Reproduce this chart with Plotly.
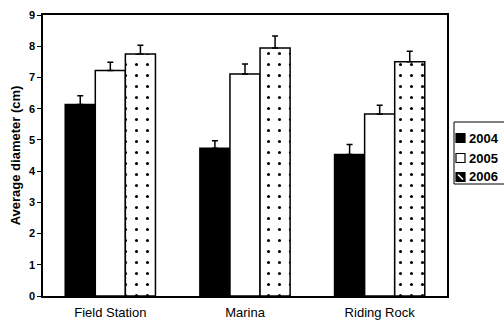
import plotly.graph_objects as go

sites = ["Field Station", "Marina", "Riding Rock"]
years = ["2004", "2005", "2006"]
means_2004 = [6.13, 4.73, 4.53]
means_2005 = [7.22, 7.11, 5.83]
means_2006 = [7.75, 7.94, 7.50]
err_2004 = [0.28, 0.24, 0.32]
err_2005 = [0.27, 0.32, 0.28]
err_2006 = [0.28, 0.39, 0.34]
y_ticks = [0, 1, 2, 3, 4, 5, 6, 7, 8, 9]

W, H = 504, 324
L, R, T, B = 43, 57, 15, 28
PW, PH = W - L - R, H - T - B


def px_x(px):
    return (px - L) / PW


def px_y(py):
    return (H - B - py) / PH


FONT = "Liberation Sans, Arial, sans-serif"

series = [
    (years[0], means_2004, err_2004, dict(color="black")),
    (years[1], means_2005, err_2005, dict(color="white")),
    (years[2], means_2006, err_2006,
     dict(color="white", pattern=dict(shape=".", fgcolor="black", bgcolor="white",
                                      size=11, solidity=0.06, fillmode="replace"))),
]

fig = go.Figure()
for name, vals, errs, mk in series:
    mk = dict(mk)
    mk["line"] = dict(color="black", width=1.5)
    fig.add_trace(go.Bar(
        x=sites, y=vals, name=name, marker=mk, showlegend=False,
        error_y=dict(type="data", array=errs, arrayminus=[0] * len(errs),
                     symmetric=False, color="black", thickness=1.5, width=3),
    ))

# Manual legend (box, swatches, labels)
shapes = [dict(type="rect", xref="paper", yref="paper",
               x0=px_x(454), x1=px_x(520), y0=px_y(122), y1=px_y(184),
               line=dict(color="black", width=1), fillcolor="white", layer="above")]
annotations = []
centers = [138, 158, 177]
for i, (name, cy) in enumerate(zip(years, centers)):
    x0, x1 = px_x(456), px_x(465)
    y0, y1 = px_y(cy + 4.5), px_y(cy - 4.5)
    fill = "black" if i != 1 else "white"
    shapes.append(dict(type="rect", xref="paper", yref="paper", x0=x0, x1=x1, y0=y0, y1=y1,
                       line=dict(color="black", width=1.2), fillcolor=fill, layer="above"))
    if i == 2:
        shapes.append(dict(type="line", xref="paper", yref="paper",
                           x0=px_x(458), y0=px_y(cy - 2.5), x1=px_x(463), y1=px_y(cy + 2.5),
                           line=dict(color="white", width=1.6), layer="above"))
    annotations.append(dict(text=f"<b>{name}</b>", xref="paper", yref="paper",
                            x=px_x(466.5), y=px_y(cy), xanchor="left", yanchor="middle",
                            showarrow=False, font=dict(family=FONT, size=13, color="black")))

fig.update_layout(
    width=W, height=H,
    margin=dict(l=L, r=R, t=T, b=B, autoexpand=False),
    paper_bgcolor="white", plot_bgcolor="white",
    barmode="group", bargap=0.33, bargroupgap=0,
    font=dict(family=FONT, color="black"),
    shapes=shapes, annotations=annotations,
    xaxis=dict(showline=True, mirror=True, linecolor="black", linewidth=1.5,
               ticks="", showgrid=False, tickfont=dict(size=13, family=FONT),
               ticklabelstandoff=4),
    yaxis=dict(range=[0, 9], tickvals=y_ticks, ticktext=[f"<b>{v}</b>" for v in y_ticks],
               showline=True, mirror=True, linecolor="black", linewidth=1.5,
               ticks="outside", ticklen=4, tickwidth=1.2, tickcolor="black",
               showgrid=False, zeroline=False, tickfont=dict(size=11, family=FONT),
               title=dict(text="<b>Average diameter (cm)</b>", font=dict(size=13, family=FONT),
                          standoff=5)),
)

fig.write_html(
    "out.html",
    config={"displayModeBar": False},
    post_script="document.body.style.margin='0';document.body.style.overflow='hidden';"
                "window.dispatchEvent(new Event('resize'));",
)
